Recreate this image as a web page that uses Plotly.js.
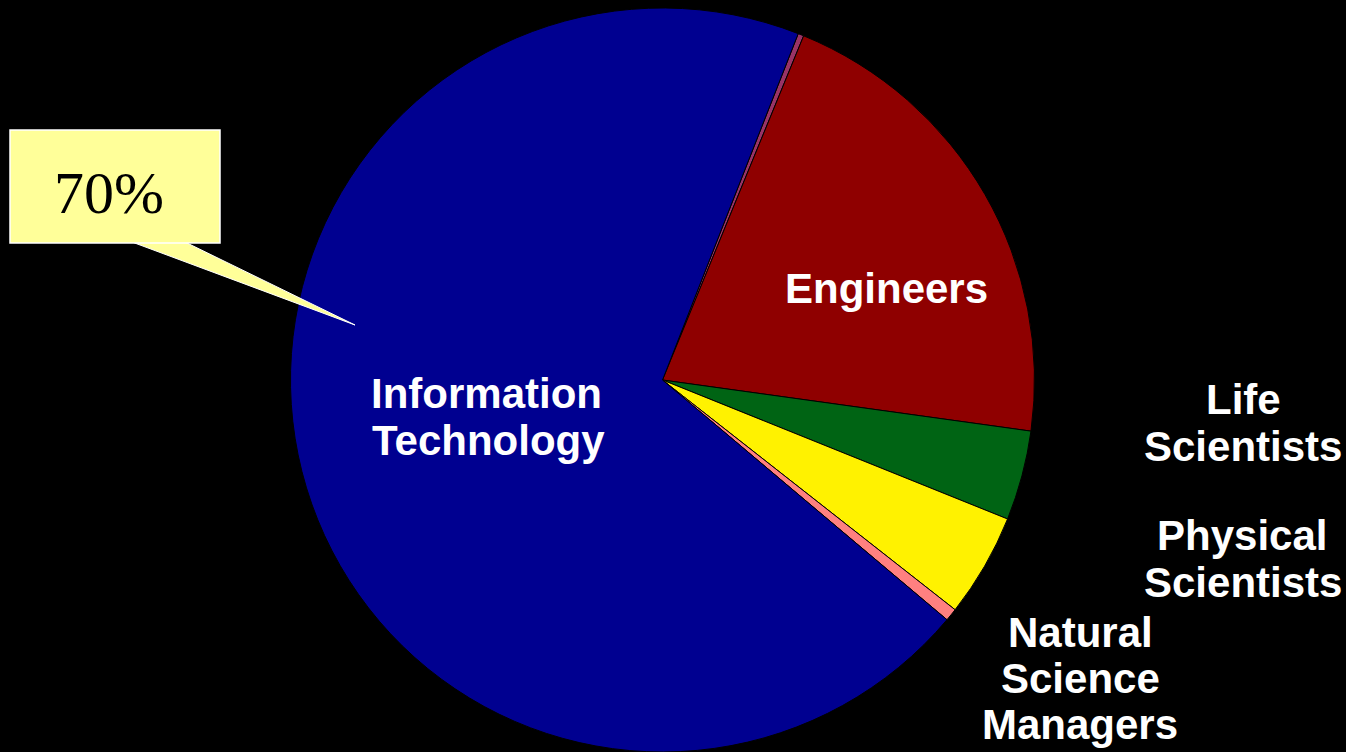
<!DOCTYPE html>
<html>
<head>
<meta charset="utf-8">
<script src="https://cdn.plot.ly/plotly-3.0.1.min.js"></script>
<style>html,body{margin:0;padding:0;background:#000;}#chart{width:1346px;height:752px;}</style>
</head>
<body>
<div id="chart"></div>
<script>
// Data
const categories = ["Other", "Engineers", "Life Scientists", "Physical Scientists", "Natural Science Managers", "Information Technology"];
const shares = [0.25, 21.0, 3.9, 4.5, 0.55, 69.8];
const sliceColors = ["#993366", "#8F0000", "#006414", "#FFF200", "#FF8080", "#000090"];
const calloutText = "70%";

const W = 1346, H = 752;
const px = x => x / W;
const py = y => 1 - y / H;

const trace = {
  type: "pie",
  labels: categories,
  values: shares,
  sort: false,
  direction: "clockwise",
  rotation: 21.4,
  textinfo: "none",
  hoverinfo: "label+percent",
  marker: { colors: sliceColors, line: { color: "#000", width: 1 } },
  domain: { x: [px(290), px(1035)], y: [0, py(8)] },
  showlegend: false
};

const lab = { family: "Liberation Sans, Arial, sans-serif", size: 42, color: "#fff", weight: "bold" };
function ann(x, y, text, font) {
  return { x: px(x), y: py(y), xref: "paper", yref: "paper", text: text, showarrow: false,
           xanchor: "center", yanchor: "middle", borderpad: 0, font: font || lab };
}

const layout = {
  width: W, height: H,
  margin: { l: 0, r: 0, t: 0, b: 0 },
  paper_bgcolor: "#000", plot_bgcolor: "#000",
  shapes: [
    { type: "path", xref: "paper", yref: "paper",
      path: `M ${px(132)} ${py(242)} L ${px(355)} ${py(325)} L ${px(185)} ${py(242)} Z`,
      fillcolor: "#FFFF99", line: { color: "#fff", width: 1 } },
    { type: "rect", xref: "paper", yref: "paper",
      x0: px(10), x1: px(220), y0: py(243), y1: py(130),
      fillcolor: "#FFFF99", line: { color: "#fff", width: 1.5 } }
  ],
  annotations: [
    ann(486, 393, "<b>Information</b>"),
    ann(488, 440, "<b>Technology</b>"),
    ann(886, 288, "<b>Engineers</b>"),
    ann(1243, 399, "<b>Life</b>"),
    ann(1243, 446, "<b>Scientists</b>"),
    ann(1242, 535, "<b>Physical</b>"),
    ann(1243, 582, "<b>Scientists</b>"),
    ann(1080, 632, "<b>Natural</b>"),
    ann(1080, 678, "<b>Science</b>"),
    ann(1080, 724, "<b>Managers</b>"),
    ann(109, 193, calloutText, { family: "Liberation Serif, Times New Roman, serif", size: 60, color: "#000" })
  ]
};

Plotly.newPlot("chart", [trace], layout, { displayModeBar: false, staticPlot: true });
</script>
</body>
</html>
